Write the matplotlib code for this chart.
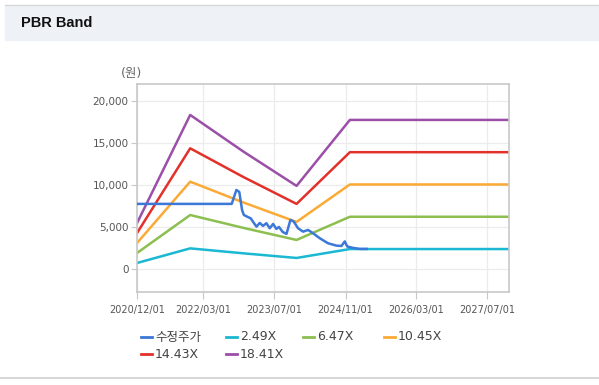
import numpy as np
import pandas as pd
import matplotlib.pyplot as plt
from matplotlib.lines import Line2D
from matplotlib.ticker import FuncFormatter

plt.rcParams['font.family'] = ['DejaVu Sans', 'Noto Sans CJK KR']

# PBR band vertices (yearly BPS points, straight lines in between)
band_dates = pd.to_datetime(['2020-12-01', '2021-12-01', '2022-12-01', '2023-12-01',
                             '2024-12-01', '2027-11-28'])
band_249 = [740, 2475, 1887, 1337, 2395, 2395]
band_647 = [1922, 6431, 4904, 3474, 6224, 6224]
band_1045 = [3104, 10387, 7921, 5612, 10053, 10053]
band_1443 = [4286, 14343, 10938, 7749, 13882, 13882]
band_1841 = [5468, 18300, 13955, 9886, 17710, 17710]

# adjusted price
price_dates = pd.to_datetime([
    '2020-12-01', '2022-09-12', '2022-10-14', '2022-11-03', '2022-11-22', '2022-12-04',
    '2022-12-31', '2023-01-21', '2023-02-12', '2023-03-01', '2023-03-23', '2023-04-15',
    '2023-05-08', '2023-05-31', '2023-06-23', '2023-07-16', '2023-08-02', '2023-08-28',
    '2023-09-23', '2023-10-20', '2023-11-12', '2023-12-11', '2024-01-15', '2024-02-18',
    '2024-03-23', '2024-05-08', '2024-07-04', '2024-08-31', '2024-10-04', '2024-10-27',
    '2024-11-13', '2024-12-23', '2025-02-07', '2025-03-27'])
price = [7750, 7750, 9400, 9170, 7030, 6440,
         6200, 6030, 5460, 5050, 5490, 5140,
         5460, 4860, 5370, 4780, 5020, 4420,
         4190, 5850, 5650, 4860, 4460, 4660,
         4270, 3680, 3080, 2800, 2760, 3300,
         2700, 2530, 2410, 2410]

labels = ['수정주가', '2.49X', '6.47X', '10.45X', '14.43X', '18.41X']
colors = ['#3b78d8', '#1ab8d2', '#8cbf4f', '#fbaa35', '#e2312a', '#9c4fa8']
tick_dates = pd.to_datetime(['2020-12-01', '2022-03-01', '2023-07-01',
                             '2024-11-01', '2026-03-01', '2027-07-01'])
y_ticks = [0, 5000, 10000, 15000, 20000]

fig = plt.figure(figsize=(5.99, 3.85), dpi=100)

# header strip
fig.patches.append(plt.Rectangle((0.008, 1 - 40 / 385), 0.992, 35 / 385,
                                 transform=fig.transFigure, color='#eef2f7', zorder=0))
fig.add_artist(Line2D([0.008, 1], [1 - 4.5 / 385] * 2, color='#d8d8d8', lw=1))
fig.add_artist(Line2D([0, 1], [1 - 377.5 / 385] * 2, color='#d0d0d0', lw=1.2))
fig.text(21 / 599, 1 - 23 / 385, 'PBR Band', fontsize=10.5, fontweight='bold',
         family='Liberation Sans', va='center', ha='left', color='#111111')

ax = fig.add_axes([137 / 599, 1 - 292 / 385, 372 / 599, 208 / 385])

bands = [band_249, band_647, band_1045, band_1443, band_1841]
for vals, c in zip(bands, colors[1:]):
    ax.plot(band_dates, vals, color=c, lw=1.8, solid_joinstyle='round')
ax.plot(price_dates, price, color=colors[0], lw=1.8, solid_joinstyle='round', zorder=5)

ax.set_xlim(pd.Timestamp('2020-12-01'), pd.Timestamp('2027-11-28'))
ax.set_ylim(-2700, 21970)
ax.set_xticks(tick_dates)
ax.set_xticklabels([d.strftime('%Y/%m/%d') for d in tick_dates])
ax.set_yticks(y_ticks)
ax.yaxis.set_major_formatter(FuncFormatter(lambda v, p: f'{int(v):,}'))
ax.tick_params(axis='x', labelsize=7, colors='#c8c8c8', labelcolor='#555555', length=5, pad=4)
ax.tick_params(axis='y', labelsize=7.5, colors='#c8c8c8', labelcolor='#555555', length=4, pad=2)
ax.grid(True, color='#ececec', lw=0.9)
ax.set_axisbelow(True)
for s in ax.spines.values():
    s.set_color('#c8c8c8')
    s.set_linewidth(1.2)

fig.text(131 / 599, 1 - 73 / 385, '(원)', fontsize=9, color='#666666', ha='center', va='center')

# legend laid out like the original (4 columns, 2 rows)
col_x = [141, 226, 303, 384]
row_y = [337, 354]
for i, (lab, c) in enumerate(zip(labels, colors)):
    x0 = col_x[i % 4]
    y0 = row_y[i // 4]
    fig.add_artist(Line2D([x0 / 599, (x0 + 11) / 599], [1 - y0 / 385] * 2, color=c, lw=2))
    fig.text((x0 + 14) / 599, 1 - y0 / 385, lab, fontsize=9, color='#444444',
             ha='left', va='center')

fig.savefig('out.png', dpi=100)
